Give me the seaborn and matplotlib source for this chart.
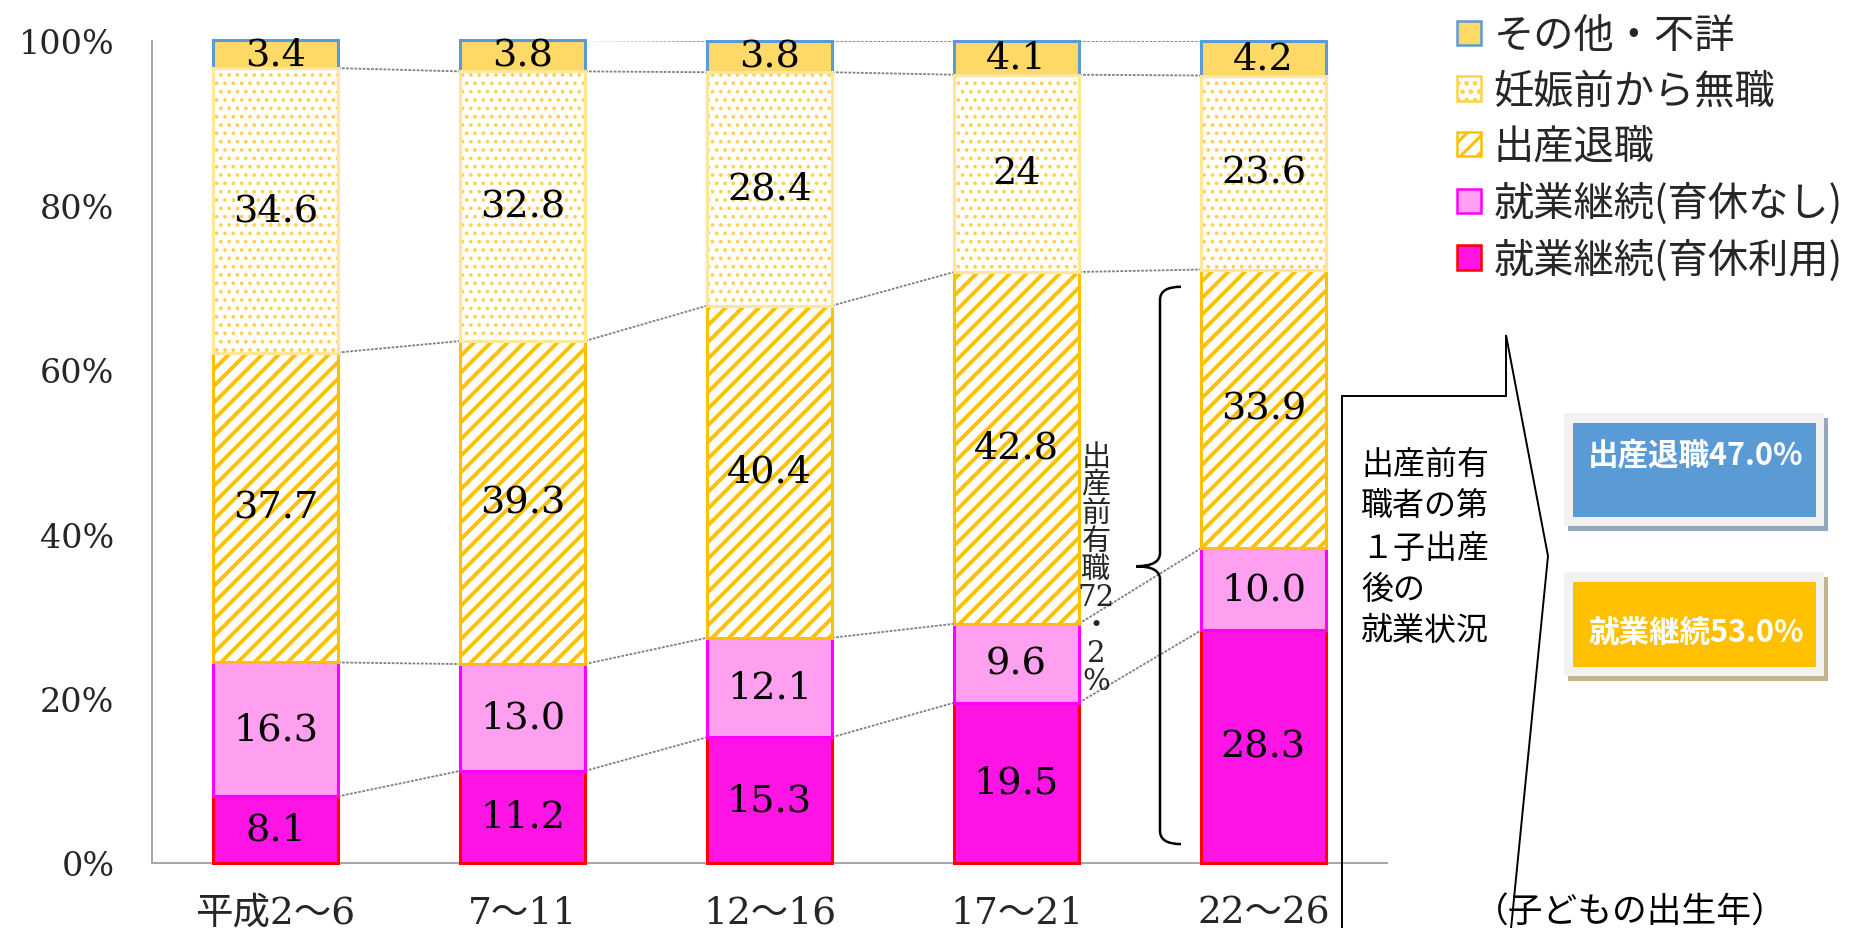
import numpy as np
import pandas as pd
import matplotlib
matplotlib.use("Agg")
import matplotlib.pyplot as plt
import seaborn as sns
from matplotlib.patches import Patch, Rectangle, Polygon, PathPatch
from matplotlib.path import Path

# ---------------- data ----------------
periods = ["平成2〜6", "7〜11", "12〜16", "17〜21", "22〜26"]
ikukyu = [8.1, 11.2, 15.3, 19.5, 28.3]        # 就業継続(育休利用)
nashi = [16.3, 13.0, 12.1, 9.6, 10.0]         # 就業継続(育休なし)
taishoku = [37.7, 39.3, 40.4, 42.8, 33.9]     # 出産退職
mushoku = [34.6, 32.8, 28.4, 24, 23.6]        # 妊娠前から無職
sonota = [3.4, 3.8, 3.8, 4.1, 4.2]            # その他・不詳
series_names = ["就業継続(育休利用)", "就業継続(育休なし)", "出産退職", "妊娠前から無職", "その他・不詳"]
yticks = [0, 20, 40, 60, 80, 100]
ytick_labels = ["0%", "20%", "40%", "60%", "80%", "100%"]
bracket_chars = ["出", "産", "前", "有", "職", "72", "・", "2", "%"]
callout_lines = ["出産前有", "職者の第", "１子出産", "後の", "就業状況"]
box_texts = ["出産退職47.0%", "就業継続53.0%"]
xaxis_note = "（子どもの出生年）"

# ---------------- style ----------------
sns.set_style("white")
plt.rcParams["font.family"] = ["DejaVu Serif", "Noto Sans CJK JP"]
SERIF = ["DejaVu Serif", "Noto Sans CJK JP"]
JP = ["Noto Sans CJK JP", "DejaVu Sans"]

styles = [
    dict(face="#FF14E6", edge="#FF0000", hatch=None, hlw=1.0),
    dict(face="#FF9FF0", edge="#FF00FF", hatch=None, hlw=1.0),
    dict(face="white", edge="#FFC000", hatch="//", hlw=2.8),
    dict(face="white", edge="#FFD24D", hatch="..", hlw=1.5),
    dict(face="#FFD966", edge="#5B9BD5", hatch=None, hlw=1.0),
]


def with_hatch_lw(artist, lw):
    """Draw this artist with its own hatch line width."""
    orig = artist.draw

    def draw(renderer, *a, **k):
        with plt.rc_context({"hatch.linewidth": lw}):
            return orig(renderer, *a, **k)

    artist.draw = draw


W, H = 1856, 929
fig = plt.figure(figsize=(W / 100, H / 100), dpi=100)
ax = fig.add_axes([152 / W, 1 - 864 / H, (1387 - 152) / W, (864 - 42) / H])

layers = [ikukyu, nashi, taishoku, mushoku, sonota]
bar_w = 0.505
bottoms = np.zeros(len(periods))
cum_levels = []
for k, (vals, st) in enumerate(zip(layers, styles)):
    vals = np.asarray(vals, dtype=float)
    n_before = len(ax.patches)
    kw = dict(hatch=st["hatch"]) if st["hatch"] else {}
    with plt.rc_context({"hatch.linewidth": st["hlw"]}):
        sns.barplot(x=periods, y=vals, bottom=bottoms, ax=ax, width=bar_w,
                    color=st["face"], saturation=1, edgecolor=st["edge"],
                    linewidth=2.2, zorder=2 + k, **kw)
    for p in ax.patches[n_before:]:
        p.set_facecolor(st["face"])
        p.set_clip_on(False)
        with_hatch_lw(p, st["hlw"])
    for i, v in enumerate(layers[k]):
        lab = str(v) if isinstance(v, int) else f"{v:.1f}"
        ax.text(i, bottoms[i] + vals[i] / 2, lab, ha="center", va="center",
                fontsize=27.5, family=SERIF, color="black", zorder=20)
    bottoms = bottoms + vals
    cum_levels.append(bottoms.copy())

# light border on top of the dotted segments
n_before = len(ax.patches)
sns.barplot(x=periods, y=np.asarray(mushoku, float),
            bottom=cum_levels[2], ax=ax, width=bar_w, color="#FFE699",
            saturation=1, edgecolor="#FFE699", linewidth=2.2, zorder=6.5)
for p in ax.patches[n_before:]:
    p.set_facecolor("none")
    p.set_clip_on(False)

# series lines connecting segment tops
for lvl in cum_levels:
    for i in range(len(periods) - 1):
        ax.plot([i + bar_w / 2, i + 1 - bar_w / 2], [lvl[i], lvl[i + 1]],
                color="#808080", lw=1.3, ls=(0, (1.5, 0.8)), zorder=1.5)

ax.set_xlim(-0.5, len(periods) - 0.5)
ax.set_ylim(0, 100)
ax.set_yticks(yticks)
ax.set_yticklabels(ytick_labels, fontsize=24, family=SERIF)
ax.set_xticks(range(len(periods)))
ax.set_xticklabels(periods, fontsize=27, family=SERIF)
ax.set_xticks(np.arange(0.5, len(periods), 1.0), minor=True)
ax.tick_params(axis="x", which="major", length=0, pad=23)
ax.tick_params(axis="x", which="minor", length=7, direction="in", color="#A6A6A6", width=1.2)
ax.tick_params(axis="y", length=0, pad=27)
ax.set_xlabel("")
ax.set_ylabel("")
for s in ["top", "right"]:
    ax.spines[s].set_visible(False)
for s in ["left", "bottom"]:
    ax.spines[s].set_color("#A6A6A6")
    ax.spines[s].set_linewidth(1.4)
    ax.spines[s].set_zorder(1)

# curly bracket
xv, xt, xe = 3.581, 3.484, 3.666
yt, ym, yb = 70.1, 36.1, 2.3
verts = [(xe, yt), (xv, yt), (xv, yt - 1.6),
         (xv, ym + 1.6),
         (xv, ym), (xt, ym),
         (xv, ym), (xv, ym - 1.6),
         (xv, yb + 1.6),
         (xv, yb), (xe, yb)]
codes = [Path.MOVETO, Path.CURVE3, Path.CURVE3,
         Path.LINETO,
         Path.CURVE3, Path.CURVE3,
         Path.CURVE3, Path.CURVE3,
         Path.LINETO,
         Path.CURVE3, Path.CURVE3]
ax.add_patch(PathPatch(Path(verts, codes), fill=False, edgecolor="black", lw=1.8,
                       clip_on=False, zorder=5))

ax.text(3.322, 35.8, "\n".join(bracket_chars), ha="center", va="center", fontsize=21,
        family=SERIF, linespacing=1.0, multialignment="center", zorder=20)

# ---------------- annotations in figure pixels ----------------
def fp(x, y):
    return (x / W, 1 - y / H)

arrow_pts = [fp(1342, 960), fp(1342, 397), fp(1506, 397), fp(1506, 336),
             fp(1548, 557), fp(1508, 960)]
fig.add_artist(Polygon(arrow_pts, closed=False, fill=False, edgecolor="black",
                       lw=1.4, transform=fig.transFigure))
line_y = [465, 506, 549, 590, 631]
for t, yy in zip(callout_lines, line_y):
    fig.text(1361 / W, 1 - yy / H, t, ha="left", va="center", fontsize=23,
             family=JP, color="black")

def box(x0, y0, x1, y1, color, shadow, txt, ty):
    fig.add_artist(Rectangle(fp(x0 + 4, y1 + 5), (x1 - x0) / W, (y1 - y0) / H,
                             transform=fig.transFigure, facecolor=shadow, edgecolor="none"))
    fig.add_artist(Rectangle(fp(x0, y1), (x1 - x0) / W, (y1 - y0) / H,
                             transform=fig.transFigure, facecolor="#F2F2F2", edgecolor="none"))
    fig.add_artist(Rectangle(fp(x0 + 9, y1 - 9), (x1 - x0 - 17) / W, (y1 - y0 - 19) / H,
                             transform=fig.transFigure, facecolor=color, edgecolor="none"))
    fig.text(1696 / W, 1 - ty / H, txt, ha="center", va="center", fontsize=22,
             family=JP, color="white", fontweight="bold")

box(1564, 414, 1824, 527, "#5B9BD5", "#93A8BF", box_texts[0], 455)
box(1564, 573, 1824, 677, "#FFC000", "#C4B48C", box_texts[1], 633)

fig.text(1474 / W, 1 - 913 / H, xaxis_note, ha="left", va="center", fontsize=25,
         family=SERIF, color="black")

# legend
handles = []
for st in styles[::-1]:
    with plt.rc_context({"hatch.linewidth": min(st["hlw"], 2.2)}):
        handles.append(Patch(facecolor=st["face"], edgecolor=st["edge"],
                             hatch=st["hatch"], lw=1.8))
with plt.rc_context({"hatch.linewidth": 2.2}):
    leg = fig.legend(handles, series_names[::-1], loc="upper left",
                     bbox_to_anchor=fp(1437, -4), frameon=False, borderpad=0,
                     handlelength=0.6, handleheight=0.55, handletextpad=0.3,
                     labelspacing=0.36, prop=dict(family=JP, size=29))
for h, st in zip(leg.legend_handles, styles[::-1]):
    with_hatch_lw(h, min(st["hlw"], 2.2))

fig.savefig("out.png", dpi=100)
